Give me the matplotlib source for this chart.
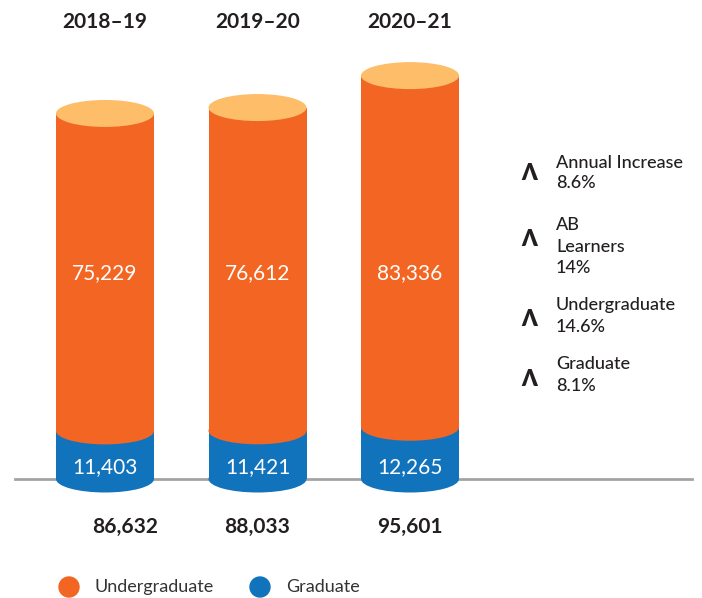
import matplotlib
matplotlib.use("Agg")
import matplotlib.pyplot as plt
from matplotlib.patches import Ellipse, Rectangle
import matplotlib.transforms as mtransforms

plt.rcParams['font.family'] = ['Lato', 'DejaVu Sans']

# ---- data ----
years = ["2018–19", "2019–20", "2020–21"]
undergrad = [75229, 76612, 83336]
graduate = [11403, 11421, 12265]
totals = [86632, 88033, 95601]
series_names = ["Undergraduate", "Graduate"]
notes = [["Annual Increase", "8.6%"], ["AB", "Learners", "14%"],
         ["Undergraduate", "14.6%"], ["Graduate", "8.1%"]]

# ---- style ----
C_UG = "#F26522"
C_TOP = "#FDBD69"
C_GR = "#1273BD"
C_TXT = "#231F20"
C_LEG = "#333333"

W, H = 702, 598
fig = plt.figure(figsize=(W / 100, H / 100), dpi=100)
ax = fig.add_axes([0, 0, 1, 1])
ax.axis('off')

x0_px, dx_px = 105, 152.5      # bar centre layout
base_px, scale = 479, 237.0     # value units per pixel
ax.set_xlim(-x0_px / dx_px, (W - x0_px) / dx_px)
ax.set_ylim(-(H - base_px) * scale, base_px * scale)

bw = 98 / dx_px
eh = 27 * scale

def fy(px):
    return 1 - px / H

# baseline
ax.axhline(0, xmin=15 / W, xmax=692 / W, color="#A3A3A3", lw=2, zorder=1)

for i in range(len(years)):
    g = graduate[i]
    u = undergrad[i]
    t = g + u
    # graduate segment
    ax.add_patch(Ellipse((i, 0), bw, eh, color=C_GR, lw=0, zorder=2))
    ax.add_patch(Rectangle((i - bw / 2, 0), bw, g, color=C_GR, lw=0, zorder=2))
    # undergraduate segment
    ax.add_patch(Ellipse((i, g), bw, eh, color=C_UG, lw=0, zorder=3))
    ax.add_patch(Rectangle((i - bw / 2, g), bw, u, color=C_UG, lw=0, zorder=3))
    # top
    ax.add_patch(Ellipse((i, t), bw, eh, color=C_TOP, lw=0, zorder=4))

trans = mtransforms.blended_transform_factory(ax.transData, fig.transFigure)
total_dx = [20 / dx_px, 0, 0]
for i in range(len(years)):
    ax.text(i, fy(22), years[i], transform=trans, ha='center', va='center',
            fontsize=15, fontweight='bold', color=C_TXT)
    ax.text(i, fy(273), f"{undergrad[i]:,}", transform=trans, ha='center',
            va='center', fontsize=15, color='white', zorder=5)
    ax.text(i, fy(467), f"{graduate[i]:,}", transform=trans, ha='center',
            va='center', fontsize=15, color='white', zorder=5)
    ax.text(i + total_dx[i], fy(527), f"{totals[i]:,}", transform=trans,
            ha='center', va='center', fontsize=15, fontweight='bold', color=C_TXT)

# right-side notes
line_y = [[163, 183], [225, 247, 268], [305, 327], [364, 386]]
chev_y = [174, 240, 319, 379]
for lines, ys, cy in zip(notes, line_y, chev_y):
    fig.text(529 / W, fy(cy), "Λ", ha='center', va='center', fontsize=16,
             fontweight='heavy', color=C_TXT)
    for s, y in zip(lines, ys):
        fig.text(556 / W, fy(y), s, ha='left', va='center', fontsize=13,
                 fontweight='medium', color=C_TXT)

# legend
leg_cols = [C_UG, C_GR]
leg_x = [69, 260]
for name, c, lx in zip(series_names, leg_cols, leg_x):
    fig.patches.append(Ellipse((lx / W, fy(587)), 20 / W, 20 / H, color=c,
                               transform=fig.transFigure, figure=fig))
    fig.text((lx + 26) / W, fy(587), name, ha='left', va='center',
             fontsize=13, color=C_LEG)

fig.savefig("out.png", dpi=100)
